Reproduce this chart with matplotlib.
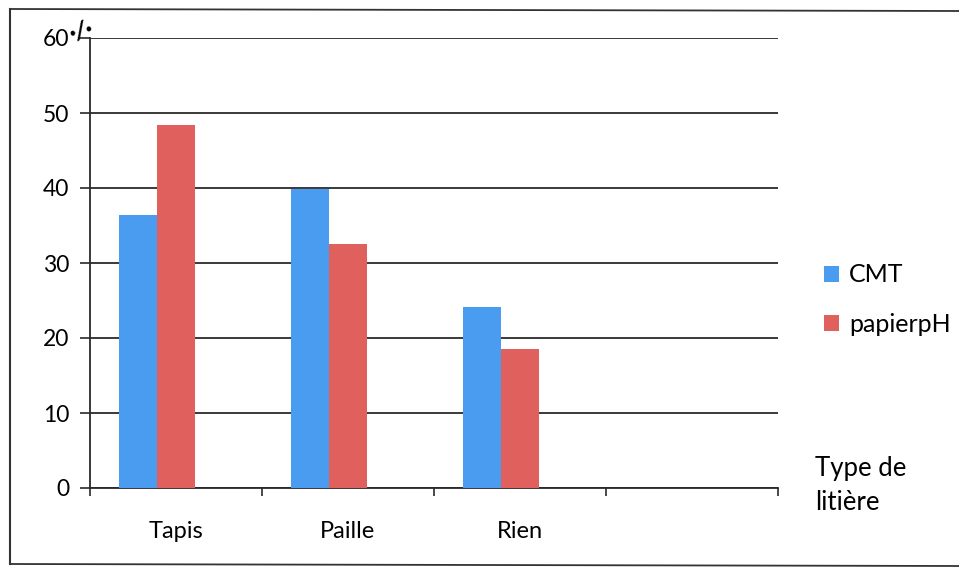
import matplotlib
matplotlib.use("Agg")
import matplotlib.pyplot as plt
from matplotlib.lines import Line2D
import numpy as np

plt.rcParams['font.family'] = ['Lato', 'DejaVu Sans']

categories = ["Tapis", "Paille", "Rien", ""]
series_names = ["CMT", "papierpH"]
cmt = [36.4, 39.9, 24.2]
papier_ph = [48.4, 32.5, 18.5]
y_ticks = [0, 10, 20, 30, 40, 50, 60]
colors = ["#4a9cf0", "#e0605e"]
x_title = "Type de\nlitière"

W, H = 959, 574
fig = plt.figure(figsize=(W / 100, H / 100), dpi=100)
ax = fig.add_axes([90 / W, 1 - 488 / H, (778 - 90) / W, (488 - 38) / H])

# clustered layout with room for three series per group (third slot unused)
x = np.arange(len(cmt))
bw = 0.222
ax.bar(x - bw, cmt, bw, color=colors[0], label=series_names[0], zorder=3)
ax.bar(x, papier_ph, bw, color=colors[1], label=series_names[1], zorder=3)

ax.set_xlim(-0.5, len(categories) - 0.5)
ax.set_ylim(0, 60)
ax.set_yticks(y_ticks)
ax.set_yticklabels([str(v) for v in y_ticks], fontsize=16.5)
ax.yaxis.grid(True, color="#2a2a2a", linewidth=1.3, zorder=0)
ax.tick_params(axis="y", length=7, width=1.2, color="#2a2a2a", pad=8)

ax.set_xticks(np.arange(len(categories)))
ax.set_xticklabels(categories, fontsize=17)
ax.tick_params(axis="x", length=0, pad=24)
ax.set_xticks(np.arange(len(categories) + 1) - 0.5, minor=True)
ax.tick_params(axis="x", which="minor", length=6, width=1.2, color="#2a2a2a")

for s in ["top", "right"]:
    ax.spines[s].set_visible(False)
for s in ["left", "bottom"]:
    ax.spines[s].set_color("#2a2a2a")
    ax.spines[s].set_linewidth(1.3)

leg = fig.legend(loc="upper left", bbox_to_anchor=(801 / W, 1 - 241 / H),
                 frameon=False, fontsize=18, handlelength=0.62, handleheight=0.62,
                 handletextpad=0.4, labelspacing=1.05)

fig.text(815 / W, 1 - 456 / H, x_title, fontsize=18.5, va="top", ha="left",
         linespacing=1.45)

# handwritten percent sign next to the top tick
fig.text(67 / W, 1 - 44 / H, "·/·", fontsize=18, fontweight="bold",
         style="italic", ha="left", va="bottom", rotation=15)

# frame around the chart
lc = "#333333"
fig.add_artist(Line2D([10 / W, 10 / W], [1 - 9 / H, 1 - 564 / H], color=lc, lw=1.5))
fig.add_artist(Line2D([10 / W, 1.0], [1 - 9 / H, 1 - 11 / H], color=lc, lw=1.3))
fig.add_artist(Line2D([10 / W, 1.0], [1 - 564 / H, 1 - 566 / H], color=lc, lw=1.3))

fig.savefig("out.png", dpi=100)
